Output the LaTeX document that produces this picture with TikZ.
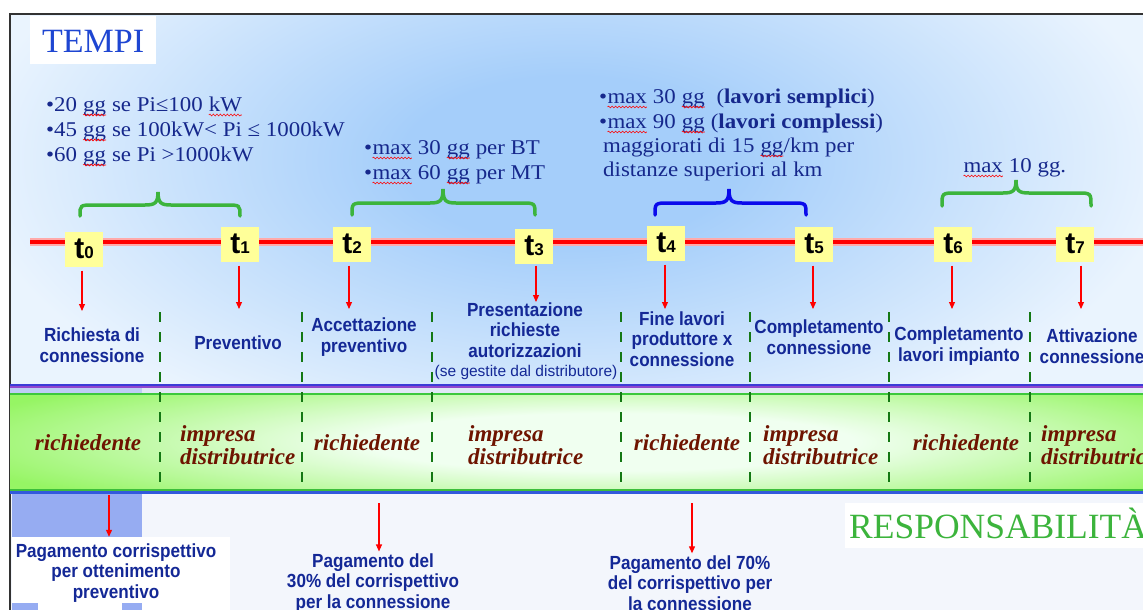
\documentclass[tikz,border=0pt]{standalone}
\usepackage{fontspec}
\setmainfont{Liberation Serif}
\newfontfamily\lblfont[FakeStretch=0.9]{Liberation Sans}
\newfontfamily\tfont{Liberation Sans}
\newfontfamily\notefont[FakeStretch=1.09]{Liberation Serif}
\usetikzlibrary{arrows.meta,decorations.pathmorphing}
\definecolor{txtblue}{RGB}{22,40,140}
\definecolor{lblblue}{RGB}{20,40,150}
\definecolor{darkred}{RGB}{110,20,0}
\definecolor{bgl}{RGB}{234,244,254}
\definecolor{bgb}{RGB}{165,206,250}
\definecolor{tyel}{RGB}{255,255,153}
\definecolor{dgreen}{RGB}{20,120,20}
\definecolor{bandgreen}{RGB}{150,245,100}
\definecolor{bandlight}{RGB}{240,255,240}
\definecolor{brgreen}{RGB}{60,180,60}
\definecolor{brblue}{RGB}{10,10,235}
\definecolor{respgreen}{RGB}{60,180,60}
\definecolor{lowbg}{RGB}{243,246,252}
\definecolor{payblue}{RGB}{150,172,242}
\definecolor{tempiblue}{RGB}{30,70,210}
\definecolor{framegray}{RGB}{50,50,50}
\definecolor{pinkhalo}{RGB}{255,170,170}
\definecolor{lineblue}{RGB}{60,60,215}
\definecolor{linepurple}{RGB}{145,70,205}
\definecolor{stripbg}{RGB}{225,232,246}
\definecolor{stripblue}{RGB}{190,205,246}
\definecolor{linegreen}{RGB}{60,200,60}
\definecolor{linegreenb}{RGB}{60,190,60}
\definecolor{lineblueb}{RGB}{50,90,220}
\pgfdeclareradialshading{glow}{\pgfpoint{0bp}{0bp}}{color(0bp)=(bgb); color(7bp)=(bgb); color(25bp)=(bgl); color(50bp)=(bgl)}
\pgfdeclareradialshading{bandglow}{\pgfpoint{0bp}{0bp}}{color(0bp)=(bandlight); color(9bp)=(bandlight); color(25bp)=(bandgreen); color(50bp)=(bandgreen)}
\newcommand\sq[1]{\tikz[baseline=(sqw.base)]{\node[inner sep=0pt,outer sep=0pt](sqw){#1};\draw[red,line width=0.6pt,decorate,decoration={snake,amplitude=0.9pt,segment length=3.5pt}]([yshift=-4pt]sqw.base west)--([yshift=-4pt]sqw.base east);}}
\newcommand\tlab[1]{{\fontsize{30}{30}\selectfont t}{\fontsize{17}{17}\selectfont #1}}
\newcommand\mybrace[7]{\draw[#7] (#1,#6) .. controls (#1,#5) and (#1,#5) .. ({#1+14},#5) -- ({#3-13},#5) .. controls ({#3-3},#5) and (#3,{#5-2}) .. (#3,#4) .. controls (#3,{#5-2}) and ({#3+3},#5) .. ({#3+13},#5) -- ({#2-14},#5) .. controls (#2,#5) and (#2,#5) .. (#2,#6);}
\tikzset{
 lbl/.style={align=center, text=lblblue, font=\lblfont\bfseries\fontsize{19}{20.5}\selectfont, inner sep=1pt},
 role/.style={align=left, text=darkred, font=\bfseries\itshape\fontsize{23}{23}\selectfont, inner sep=0pt},
 note/.style={anchor=base west, text=txtblue, font=\notefont\fontsize{21}{25}\selectfont, inner sep=0pt},
 tbox/.style={fill=tyel, minimum width=38pt, minimum height=35pt, inner sep=0pt, font=\tfont\bfseries, text=black},
 redarr/.style={draw=red, line width=1.1pt, -{Triangle[length=7pt,width=6pt]}},
 divider/.style={draw=dgreen, line width=2.6pt, dash pattern=on 10pt off 10pt},
 gbrace/.style={draw=brgreen, line width=3.5pt, line cap=round},
 bbrace/.style={draw=brblue, line width=3.5pt, line cap=round},
}
\begin{document}
\begin{tikzpicture}[x=1pt,y=-1pt]
\useasboundingbox (0,0) rectangle (1143,610);
\begin{scope}
\clip (0,0) rectangle (1143,610);
\fill[white] (0,0) rectangle (1143,610);
% background
\fill[bgl] (10,14) rectangle (1143,610);
\begin{scope}
\clip (10,14) rectangle (1143,384);
\shade[shading=glow] (570,160) ellipse [x radius=600, y radius=300];
\end{scope}
\fill[lowbg] (10,493) rectangle (1143,610);
% frame
\draw[framegray, line width=2pt] (10,610) -- (10,14) -- (1143,14);
% TEMPI
\fill[white] (30,16) rectangle (156,64);
\node[anchor=base west, text=tempiblue, font=\fontsize{34}{34}\selectfont, inner sep=0pt] (tempi) at (42,53) {TEMPI};
% notes
\node[note] (n1) at (46,111) {•20 \sq{gg} se Pi≤100 \sq{kW}};
\node[note] (n2) at (46,136) {•45 \sq{gg} se 100kW< Pi ≤ 1000kW};
\node[note] (n3) at (46,161) {•60 \sq{gg} se Pi >1000kW};
\node[note] (n4) at (364,154) {•\sq{max} 30 \sq{gg} per BT};
\node[note] (n5) at (364,179) {•\sq{max} 60 \sq{gg} per MT};
\node[note] (n6) at (599,103) {•\sq{max} 30 \sq{gg}\ \ (\textbf{lavori semplici})};
\node[note] (n7) at (599,128) {•\sq{max} 90 \sq{gg} (\textbf{lavori complessi})};
\node[note] (n8) at (603,152) {maggiorati di 15 \sq{gg}/km per};
\node[note] (n9) at (603,176) {distanze superiori al km};
\node[note] (n10) at (963,172) {\sq{max} 10 gg.};
% braces
\mybrace{80}{240}{158}{192}{205}{216}{gbrace}
\mybrace{352}{535}{443}{189}{203}{215}{gbrace}
\mybrace{655}{806}{729}{189}{203}{215}{bbrace}
\mybrace{942}{1091}{1016}{180}{193}{206}{gbrace}
% timeline
\draw[line width=8pt, pinkhalo] (30,242) -- (1143,242);
\draw[line width=4pt, red] (30,242) -- (1143,242);
\node[tbox] (t0) at (84,249) {\tlab{0}};
\node[tbox] (t1) at (240,244) {\tlab{1}};
\node[tbox] (t2) at (352,244) {\tlab{2}};
\node[tbox] (t3) at (534,246) {\tlab{3}};
\node[tbox] (t4) at (666,243) {\tlab{4}};
\node[tbox] (t5) at (814,244) {\tlab{5}};
\node[tbox] (t6) at (953,244) {\tlab{6}};
\node[tbox] (t7) at (1075,244) {\tlab{7}};
% event labels
\node[lbl] (l0) at (92,345) {Richiesta di\\connessione};
\node[lbl] (l1) at (238,343) {Preventivo};
\node[lbl] (l2) at (364,337) {Accettazione\\preventivo};
\node[lbl] (l3) at (525,330) {Presentazione\\richieste\\autorizzazioni};
\node[text=lblblue, font=\tfont\fontsize{15.5}{15.5}\selectfont, inner sep=0pt] (l3b) at (526,372) {(se gestite dal distributore)};
\node[lbl] (l4) at (682,339) {Fine lavori\\produttore x\\connessione};
\node[lbl] (l5) at (819,337) {Completamento\\connessione};
\node[lbl] (l6) at (959,346) {Completamento\\lavori impianto};
\node[lbl] (l7) at (1092,346) {Attivazione\\connessione};
% arrows t -> labels
\coordinate (a0) at (82,311);
\coordinate (a1) at (239,309);
\coordinate (a2) at (349,309);
\coordinate (a3) at (536,302);
\coordinate (a4) at (665,309);
\coordinate (a5) at (813,309);
\coordinate (a6) at (952,309);
\coordinate (a7) at (1081,309);
\draw[redarr, shorten <=4pt] (t0.south -| a0) -- (a0);
\draw[redarr, shorten <=4pt] (t1.south -| a1) -- (a1);
\draw[redarr, shorten <=4pt] (t2.south -| a2) -- (a2);
\draw[redarr, shorten <=2pt] (t3.south -| a3) -- (a3);
\draw[redarr, shorten <=4pt] (t4.south -| a4) -- (a4);
\draw[redarr, shorten <=4pt] (t5.south -| a5) -- (a5);
\draw[redarr, shorten <=4pt] (t6.south -| a6) -- (a6);
\draw[redarr, shorten <=4pt] (t7.south -| a7) -- (a7);
% band lines
\fill[lineblue] (10,383.5) rectangle (1143,386);
\fill[linepurple] (10,386) rectangle (1143,388);
\fill[stripbg] (10,388) rectangle (1143,393);
\fill[stripblue] (10,388) rectangle (142,393);
\fill[linegreen] (10,393) rectangle (1143,395);
\fill[bandgreen] (10,395) rectangle (1143,489);
\begin{scope}
\clip (10,395) rectangle (1143,489);
\shade[shading=bandglow] (610,442) ellipse [x radius=680, y radius=80];
\end{scope}
\fill[linegreenb] (10,488.5) rectangle (1143,490.5);
\fill[lineblueb] (10,490.5) rectangle (1143,493.5);
% dividers
\foreach \dx in {160,302,432,621,750,889,1030}
  \draw[divider] (\dx,312) -- (\dx,489);
% roles
\node[role] (r0) at (88,443) {richiedente};
\node[role, anchor=west] (r1) at (180,445) {impresa\\distributrice};
\node[role] (r2) at (367,443) {richiedente};
\node[role, anchor=west] (r3) at (468,445) {impresa\\distributrice};
\node[role] (r4) at (687,443) {richiedente};
\node[role, anchor=west] (r5) at (763,445) {impresa\\distributrice};
\node[role] (r6) at (966,443) {richiedente};
\node[role, anchor=west] (r7) at (1041,445) {impresa\\distributrice};
% payments
\fill[payblue] (12,494) rectangle (142,610);
\fill[white] (38,603) rectangle (122,610);
\fill[white] (142,603) rectangle (230,610);
\node[fill=white, minimum width=218pt, minimum height=66pt, inner sep=0pt] (p0box) at (121,570) {};
\node[lbl] (p0) at (116,573) {Pagamento corrispettivo\\per ottenimento\\preventivo};
\node[lbl, inner sep=2pt] (p1) at (373,583) {Pagamento del\\30\% del corrispettivo\\per la connessione};
\node[lbl, inner sep=2pt] (p2) at (690,583) {Pagamento del 70\%\\del corrispettivo per\\la connessione};
\coordinate (pa) at (109,495);
\coordinate (pb) at (379,503);
\coordinate (pc) at (692,503);
\draw[redarr] (pa) -- (p0box.north -| pa);
\draw[redarr] (pb) -- (p1.north -| pb);
\draw[redarr] (pc) -- (p2.north -| pc);
% RESPONSABILITA
\fill[white] (845,503) rectangle (1143,548);
\node[anchor=base west, text=respgreen, font=\fontsize{35.5}{35.5}\selectfont, inner sep=0pt] (resp) at (849,538) {RESPONSABILITÀ};
\end{scope}
\end{tikzpicture}
\end{document}
